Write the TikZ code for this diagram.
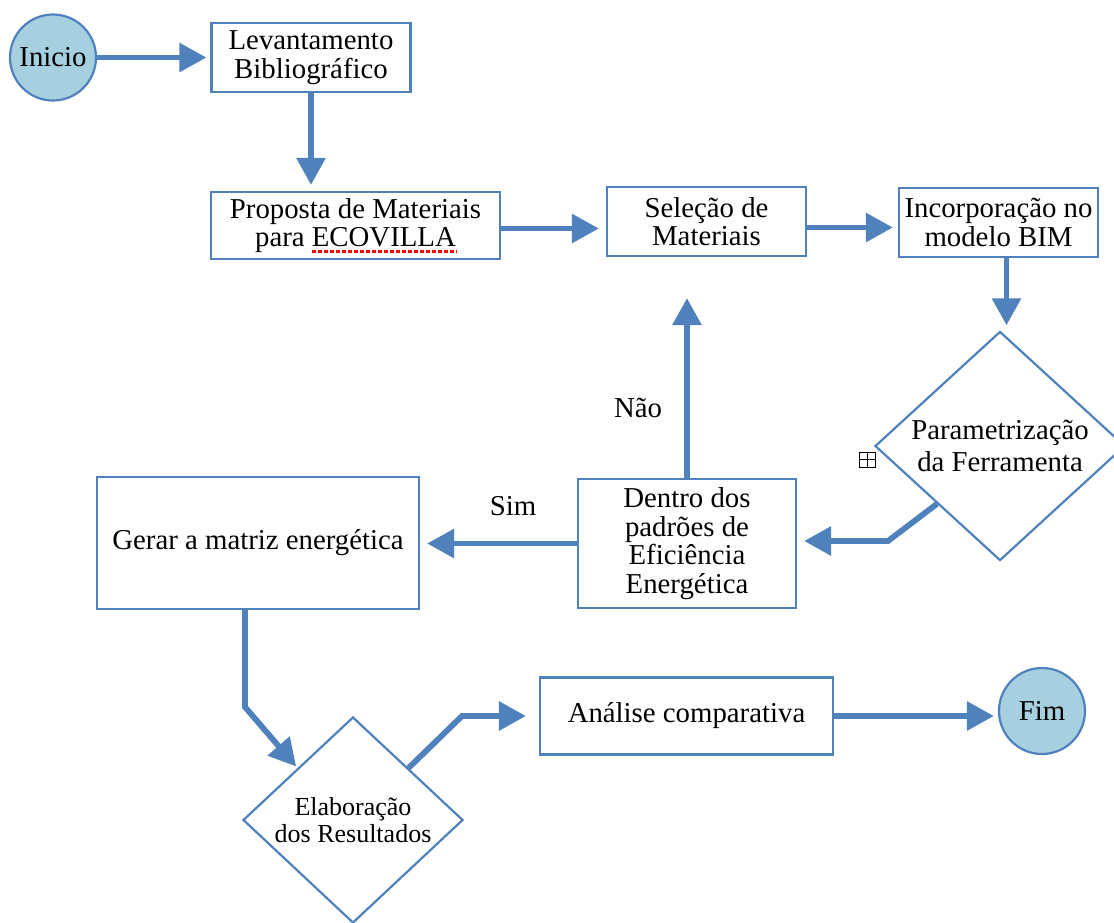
\documentclass[tikz,border=0pt]{standalone}
\usepackage{fontspec}
\setmainfont{Liberation Serif}
\usetikzlibrary{arrows.meta,shapes.geometric,calc}
\definecolor{bcol}{RGB}{79,129,189}
\definecolor{cfill}{RGB}{166,208,223}
\begin{document}
\begin{tikzpicture}[x=1pt,y=-1pt,
  box/.style={draw=bcol, line width=2.2pt, fill=white, inner sep=0pt, align=center,
    font=\fontsize{28.8}{28.5}\selectfont},
  dia/.style={diamond, draw=bcol, line width=2.2pt, fill=white, inner sep=0pt, align=center},
  term/.style={circle, draw=bcol, line width=2.2pt, fill=cfill, minimum size=86pt, inner sep=0pt,
    font=\fontsize{28.8}{28.5}\selectfont},
  arr/.style={draw=bcol, line width=5.8pt, line join=miter,
    -{Triangle[length=27pt,width=28pt]}},
  lbl/.style={font=\fontsize{28.8}{28.5}\selectfont, inner sep=0pt}
]
\useasboundingbox (0,0) rectangle (1114,922);
\fill[white] (0,0) rectangle (1114,922);

% nodes
\node[term] (inicio) at (53,57.5) {Inicio};
\node[box, minimum width=199pt, minimum height=69pt] (lev) at (311,57.5) {Levantamento\\Bibliográfico};
\node[box, minimum width=289pt, minimum height=67pt] (prop) at (355.5,225.5) {Proposta de Materiais\\para ECOVILLA};
\node[box, minimum width=199pt, minimum height=69pt] (sel) at (706.5,221.5) {Seleção de\\Materiais};
\node[box, minimum width=199pt, minimum height=69pt] (inc) at (998.5,222.5) {Incorporação no\\modelo BIM};
\node[dia, minimum width=250pt, minimum height=226pt,
  font=\fontsize{28.8}{32}\selectfont] (param) at (1000,446) {Parametrização\\da Ferramenta};
\node[box, minimum width=218pt, minimum height=129pt] (dentro) at (687,543.5) {Dentro dos\\padrões de\\Eficiência\\Energética};
\node[box, minimum width=322pt, minimum height=132pt] (gerar) at (258,543) {Gerar a matriz energética};
\node[dia, minimum width=220pt, minimum height=206pt,
  font=\fontsize{26}{27}\selectfont] (elab) at (353,820) {Elaboração\\dos Resultados};
\node[box, minimum width=293pt, minimum height=77pt] (anal) at (686.5,716) {Análise comparativa};
\node[term] (fim) at (1042,711) {Fim};

\node[lbl] (nao) at (638,408) {Não};
\node[lbl] (sim) at (513,506) {Sim};

% small expander icon
\node[draw=black, line width=1pt, minimum width=16pt, minimum height=15pt, inner sep=0pt,
  path picture={\draw[line width=1pt] (path picture bounding box.north) -- (path picture bounding box.south)
    (path picture bounding box.west) -- (path picture bounding box.east);}] (plusicon) at (867,459.5) {};

% spell-check underline
\draw[red, line width=3pt, dash pattern=on 3.5pt off 2.5pt] (312,251) -- (457,251);

% helper coordinates
\coordinate (b1) at (888,541);
\coordinate (g1) at (245,707);
\coordinate (e1) at (462,716);

% connectors
\draw[arr, shorten >=4pt] (inicio.east) -- (inicio.east -| lev.west);
\draw[arr, shorten >=6pt] (lev.south) -- (lev.south |- prop.north);
\draw[arr, shorten >=7pt] ([yshift=-3pt]prop.east) -- ([yshift=-3pt]prop.east -| sel.west);
\draw[arr, shorten >=5pt] ([yshift=-6pt]sel.east) -- ([yshift=-6pt]sel.east -| inc.west);
\draw[arr, shorten >=5pt] ([xshift=8pt]inc.south) -- ([xshift=8pt]inc.south |- param.north);
\draw[arr, shorten >=7pt] (param.south west) -- (b1) -- (b1 -| dentro.east);
\draw[arr, shorten >=41pt] (dentro.north) -- (dentro.north |- sel.south);
\draw[arr, shorten >=7pt] (dentro.west) -- (dentro.west -| gerar.east);
\draw[arr, shorten >=2pt] (gerar.south -| g1) -- (g1) -- (elab.north west);
\draw[arr, shorten >=13pt] (elab.north east) -- (e1) -- (e1 -| anal.west);
\draw[arr, shorten >=4pt] (anal.east) -- (anal.east -| fim.west);
\end{tikzpicture}
\end{document}
